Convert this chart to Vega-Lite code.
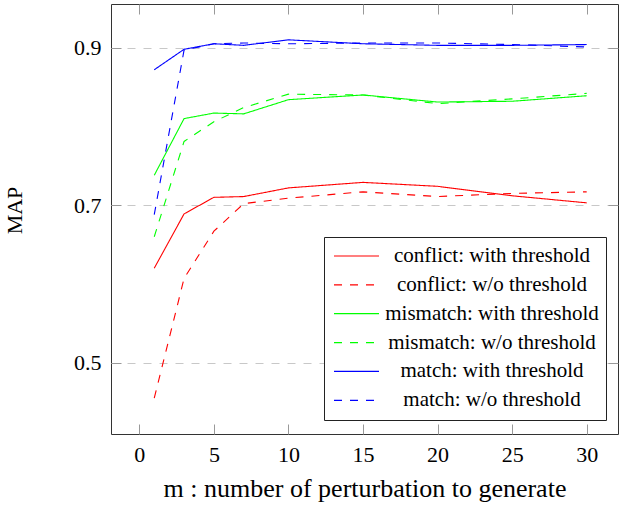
{
  "$schema": "https://vega.github.io/schema/vega-lite/v6.json",
  "width": 507,
  "height": 430,
  "autosize": {"type": "none"},
  "padding": {"left": 111, "top": 4, "right": 1, "bottom": 78},
  "background": "white",
  "data": {
    "values": [
      {"m": 1, "MAP": 0.620, "series": "conflict: with threshold"},
      {"m": 3, "MAP": 0.689, "series": "conflict: with threshold"},
      {"m": 5, "MAP": 0.710, "series": "conflict: with threshold"},
      {"m": 7, "MAP": 0.711, "series": "conflict: with threshold"},
      {"m": 10, "MAP": 0.722, "series": "conflict: with threshold"},
      {"m": 15, "MAP": 0.729, "series": "conflict: with threshold"},
      {"m": 20, "MAP": 0.724, "series": "conflict: with threshold"},
      {"m": 25, "MAP": 0.712, "series": "conflict: with threshold"},
      {"m": 30, "MAP": 0.703, "series": "conflict: with threshold"},
      {"m": 1, "MAP": 0.455, "series": "conflict: w/o threshold"},
      {"m": 3, "MAP": 0.607, "series": "conflict: w/o threshold"},
      {"m": 5, "MAP": 0.667, "series": "conflict: w/o threshold"},
      {"m": 7, "MAP": 0.702, "series": "conflict: w/o threshold"},
      {"m": 10, "MAP": 0.709, "series": "conflict: w/o threshold"},
      {"m": 15, "MAP": 0.717, "series": "conflict: w/o threshold"},
      {"m": 20, "MAP": 0.711, "series": "conflict: w/o threshold"},
      {"m": 25, "MAP": 0.715, "series": "conflict: w/o threshold"},
      {"m": 30, "MAP": 0.717, "series": "conflict: w/o threshold"},
      {"m": 1, "MAP": 0.738, "series": "mismatch: with threshold"},
      {"m": 3, "MAP": 0.810, "series": "mismatch: with threshold"},
      {"m": 5, "MAP": 0.817, "series": "mismatch: with threshold"},
      {"m": 7, "MAP": 0.816, "series": "mismatch: with threshold"},
      {"m": 10, "MAP": 0.834, "series": "mismatch: with threshold"},
      {"m": 15, "MAP": 0.840, "series": "mismatch: with threshold"},
      {"m": 20, "MAP": 0.831, "series": "mismatch: with threshold"},
      {"m": 25, "MAP": 0.832, "series": "mismatch: with threshold"},
      {"m": 30, "MAP": 0.839, "series": "mismatch: with threshold"},
      {"m": 1, "MAP": 0.660, "series": "mismatch: w/o threshold"},
      {"m": 3, "MAP": 0.781, "series": "mismatch: w/o threshold"},
      {"m": 5, "MAP": 0.806, "series": "mismatch: w/o threshold"},
      {"m": 7, "MAP": 0.824, "series": "mismatch: w/o threshold"},
      {"m": 10, "MAP": 0.841, "series": "mismatch: w/o threshold"},
      {"m": 15, "MAP": 0.840, "series": "mismatch: w/o threshold"},
      {"m": 20, "MAP": 0.829, "series": "mismatch: w/o threshold"},
      {"m": 25, "MAP": 0.835, "series": "mismatch: w/o threshold"},
      {"m": 30, "MAP": 0.842, "series": "mismatch: w/o threshold"},
      {"m": 1, "MAP": 0.872, "series": "match: with threshold"},
      {"m": 3, "MAP": 0.898, "series": "match: with threshold"},
      {"m": 5, "MAP": 0.905, "series": "match: with threshold"},
      {"m": 7, "MAP": 0.903, "series": "match: with threshold"},
      {"m": 10, "MAP": 0.910, "series": "match: with threshold"},
      {"m": 15, "MAP": 0.905, "series": "match: with threshold"},
      {"m": 20, "MAP": 0.903, "series": "match: with threshold"},
      {"m": 25, "MAP": 0.903, "series": "match: with threshold"},
      {"m": 30, "MAP": 0.904, "series": "match: with threshold"},
      {"m": 1, "MAP": 0.688, "series": "match: w/o threshold"},
      {"m": 3, "MAP": 0.897, "series": "match: w/o threshold"},
      {"m": 5, "MAP": 0.905, "series": "match: w/o threshold"},
      {"m": 7, "MAP": 0.906, "series": "match: w/o threshold"},
      {"m": 10, "MAP": 0.905, "series": "match: w/o threshold"},
      {"m": 15, "MAP": 0.906, "series": "match: w/o threshold"},
      {"m": 20, "MAP": 0.906, "series": "match: w/o threshold"},
      {"m": 25, "MAP": 0.904, "series": "match: w/o threshold"},
      {"m": 30, "MAP": 0.901, "series": "match: w/o threshold"}
    ]
  },
  "layer": [
    {
      "mark": {"type": "line", "strokeWidth": 1.1, "clip": true},
      "encoding": {
        "x": {
          "field": "m", "type": "quantitative",
          "scale": {"domain": [-1.9, 32.1], "nice": false, "zero": false},
          "axis": {
            "orient": "bottom", "values": [0, 5, 10, 15, 20, 25, 30],
            "title": "m : number of perturbation to generate",
            "grid": false, "domain": false,
            "tickSize": -10, "tickColor": "#999999", "tickWidth": 1,
            "labelPadding": 20, "labelFont": "Liberation Serif", "labelFontSize": 22, "labelColor": "black",
            "titleFont": "Liberation Serif", "titleFontSize": 26, "titleFontWeight": "normal", "titleColor": "black",
            "titlePadding": 10
          }
        },
        "y": {
          "field": "MAP", "type": "quantitative",
          "scale": {"domain": [0.4095, 0.9555], "nice": false, "zero": false},
          "axis": {
            "orient": "left", "values": [0.5, 0.7, 0.9], "format": ".1f",
            "title": "MAP",
            "grid": true, "gridDash": [8, 8], "gridColor": "#c8c8c8", "gridWidth": 1,
            "domain": false,
            "tickSize": -10, "tickColor": "#999999", "tickWidth": 1,
            "labelPadding": 20, "labelFont": "Liberation Serif", "labelFontSize": 22, "labelColor": "black",
            "titleFont": "Liberation Serif", "titleFontSize": 22, "titleFontWeight": "normal", "titleColor": "black",
            "titlePadding": 47, "titleY": 206
          }
        },
        "color": {
          "field": "series", "type": "nominal",
          "scale": {
            "domain": ["conflict: with threshold", "conflict: w/o threshold", "mismatch: with threshold", "mismatch: w/o threshold", "match: with threshold", "match: w/o threshold"],
            "range": ["#ff0000", "#ff0000", "#00ff00", "#00ff00", "#0000ff", "#0000ff"]
          },
          "legend": {
            "title": null, "orient": "none", "legendX": 213, "legendY": 233, "direction": "vertical",
            "padding": 7, "strokeColor": "#222222", "fillColor": "white", "cornerRadius": 0,
            "symbolType": "stroke", "symbolSize": 2025, "symbolStrokeWidth": 1.2, "symbolOffset": 2,
            "clipHeight": 24, "rowPadding": 4.86,
            "labelFont": "Liberation Serif", "labelFontSize": 21, "labelColor": "black",
            "labelAlign": "center", "labelOffset": 112, "labelLimit": 400
          }
        },
        "strokeDash": {
          "field": "series", "type": "nominal",
          "scale": {
            "domain": ["conflict: with threshold", "conflict: w/o threshold", "mismatch: with threshold", "mismatch: w/o threshold", "match: with threshold", "match: w/o threshold"],
            "range": [[1, 0], [8, 8], [1, 0], [8, 8], [1, 0], [8, 8]]
          },
          "legend": {
            "title": null, "orient": "none", "legendX": 213, "legendY": 233, "direction": "vertical",
            "padding": 7, "strokeColor": "#222222", "fillColor": "white", "cornerRadius": 0,
            "symbolType": "stroke", "symbolSize": 2025, "symbolStrokeWidth": 1.2, "symbolOffset": 2,
            "clipHeight": 24, "rowPadding": 4.86,
            "labelFont": "Liberation Serif", "labelFontSize": 21, "labelColor": "black",
            "labelAlign": "center", "labelOffset": 112, "labelLimit": 400
          }
        }
      }
    },
    {
      "mark": {"type": "line", "opacity": 0},
      "encoding": {
        "x": {
          "field": "m", "type": "quantitative",
          "axis": {
            "orient": "top", "values": [0, 5, 10, 15, 20, 25, 30], "labels": false, "title": null,
            "grid": false, "domain": false, "tickSize": -10, "tickColor": "#999999", "tickWidth": 1
          }
        },
        "y": {
          "field": "MAP", "type": "quantitative",
          "axis": {
            "orient": "right", "values": [0.5, 0.7, 0.9], "labels": false, "title": null,
            "grid": false, "domain": false, "tickSize": -10, "tickColor": "#999999", "tickWidth": 1
          }
        }
      }
    }
  ],
  "resolve": {"axis": {"x": "independent", "y": "independent"}},
  "config": {
    "view": {"stroke": "#333333", "strokeWidth": 1},
    "font": "Liberation Serif"
  }
}
